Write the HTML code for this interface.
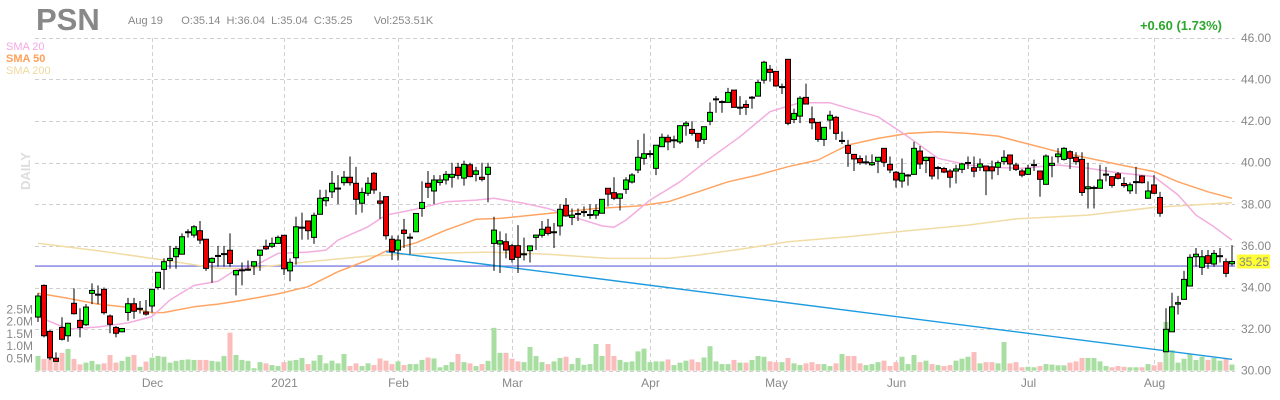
<!DOCTYPE html>
<html><head><meta charset="utf-8">
<style>
html,body{margin:0;padding:0;background:#fff;}
svg{display:block;font-family:"Liberation Sans",Arial,sans-serif;}
</style></head>
<body>
<svg id="chart" width="1280" height="400" viewBox="0 0 1280 400" xmlns="http://www.w3.org/2000/svg">
  <rect x="0" y="0" width="1280" height="400" fill="#fff"/>
  <text x="36" y="30" font-size="31" font-weight="bold" fill="#888">PSN</text>
  <text x="128" y="24" font-size="11" fill="#888" xml:space="preserve">Aug 19      O:35.14  H:36.04  L:35.04  C:35.25       Vol:253.51K</text>
  <text x="1222" y="30" font-size="13" font-weight="bold" fill="#2ca62c" text-anchor="end">+0.60 (1.73%)</text>
  <text x="6" y="50" font-size="11" fill="#f7a8e4">SMA 20</text>
  <text x="6" y="62" font-size="11" font-weight="bold" fill="#ffa05a">SMA 50</text>
  <text x="6" y="74" font-size="11" fill="#f0d9a0">SMA 200</text>
  <text transform="translate(30,190) rotate(-90)" font-size="13" font-weight="bold" fill="#ddd">DAILY</text>
  <g id="grid"></g>
  <g id="vol"></g>
  <g id="lines"></g>
  <g id="candles"></g>
  <g id="axes"></g>
</svg>
<script>
const opens=[32.58,34.1,31.89,30.6,32.08,31.68,33.24,32.42,32.21,33.72,33.67,33.91,32.63,32.08,31.87,32.8,33.22,33.0,32.82,33.11,34.0,34.87,35.3,35.48,35.6,36.68,36.52,36.73,36.32,35.21,35.53,35.62,35.79,34.61,34.84,34.87,35.03,35.55,35.98,35.98,36.12,36.51,34.8,35.43,36.89,37.2,36.41,37.52,38.17,38.6,38.77,39.04,39.3,39.01,38.05,38.53,39.49,38.16,38.37,36.32,35.8,36.76,36.41,36.68,37.8,39.01,38.64,39.05,39.17,39.3,39.78,39.26,39.9,39.44,39.3,39.44,36.12,36.09,36.2,36.01,36.01,35.61,35.77,36.41,36.51,36.9,36.67,36.96,37.95,37.37,37.55,37.64,37.5,37.48,37.57,38.77,38.56,38.29,38.72,39.07,39.65,40.21,40.43,39.73,40.77,41.22,41.1,41.0,41.78,41.6,41.41,41.12,41.99,43.06,42.93,42.9,43.49,42.66,42.8,43.14,43.2,43.97,44.49,44.39,43.65,44.97,42.08,42.24,43.14,42.11,41.94,41.12,42.05,42.18,41.06,40.83,40.4,40.2,40.03,39.9,40.07,40.69,39.92,39.54,39.12,39.4,39.44,40.56,40.1,40.26,39.76,39.72,39.6,39.6,39.68,40.0,39.76,39.78,39.84,39.8,39.78,40.05,40.37,39.89,39.6,39.44,39.9,39.6,38.96,39.87,40.29,40.16,40.53,40.26,40.16,38.75,38.8,38.77,39.44,39.33,39.46,39.0,38.65,39.08,39.36,38.29,38.93,38.33,30.91,31.87,33.2,33.43,34.07,35.48,34.97,35.53,35.13,35.52,35.24,35.14];
const highs=[33.73,34.15,31.95,30.88,32.57,32.3,33.96,33.0,33.2,34.2,34.1,34.0,32.7,32.15,32.05,33.5,33.5,33.35,33.4,33.95,34.73,35.4,36.0,36.0,36.6,36.8,37.0,37.2,36.32,35.45,36.0,36.0,36.6,34.82,35.2,35.3,35.24,35.8,36.3,36.4,36.5,36.51,35.4,37.4,37.6,37.2,37.6,38.7,38.7,39.6,39.4,39.6,40.3,39.8,38.8,39.3,39.55,38.6,38.37,36.5,36.5,37.3,36.6,37.56,39.1,39.6,39.4,39.4,39.6,40.0,40.0,40.1,40.0,39.8,40.0,40.0,37.4,36.7,36.6,36.1,37.0,36.4,36.0,36.52,37.2,37.3,37.1,38.0,38.3,37.8,37.8,37.9,38.0,38.0,38.24,38.77,39.3,38.5,39.3,39.5,41.1,41.4,40.6,40.84,41.4,41.35,41.3,41.78,42.0,42.0,41.41,41.73,42.9,43.2,43.0,43.6,43.49,43.2,43.0,43.2,43.98,44.9,44.7,44.39,43.8,44.97,42.6,43.2,43.8,42.7,41.94,41.7,42.5,42.25,41.5,41.1,40.4,40.35,40.35,40.4,40.26,40.69,40.3,39.6,40.2,39.45,41.0,40.8,40.3,40.26,39.85,39.8,39.7,39.9,40.0,40.3,40.3,40.2,39.84,40.1,40.1,40.6,40.37,40.0,39.7,39.9,40.15,39.6,40.4,40.3,40.7,40.75,40.6,40.5,40.5,40.0,38.9,39.9,39.8,39.33,39.55,39.3,39.05,39.8,39.4,39.1,39.4,38.6,33.0,33.75,33.6,34.8,35.6,35.9,35.8,35.8,35.8,35.9,35.4,36.04];
const lows=[32.34,31.6,30.51,30.44,31.45,31.39,32.7,31.6,32.15,33.2,33.2,32.7,31.8,31.6,31.85,32.4,32.5,32.75,32.65,32.8,33.9,33.9,34.9,34.9,35.6,36.4,36.4,36.1,34.8,34.23,35.0,35.0,35.0,33.62,34.1,34.8,34.6,34.8,35.8,35.9,36.1,34.6,34.3,35.1,36.3,36.3,36.1,37.52,37.9,38.3,38.0,38.9,38.9,37.5,37.6,38.4,38.5,37.3,36.3,35.32,35.3,35.9,35.6,36.68,37.4,38.3,38.0,38.9,38.95,38.8,39.2,38.9,39.3,39.1,39.1,38.1,34.8,34.7,35.4,35.2,34.7,35.3,35.2,35.8,36.4,36.5,35.9,36.5,37.4,37.0,37.2,37.4,37.3,37.3,37.57,37.9,38.2,37.7,38.5,39.0,39.5,39.9,40.25,39.4,40.77,40.6,40.7,40.9,41.3,41.3,40.7,40.9,41.8,42.4,42.4,42.9,42.66,42.3,42.3,42.6,43.2,43.8,43.9,43.65,43.3,41.8,41.9,41.9,42.8,41.6,41.0,40.8,41.6,41.1,40.9,39.8,39.6,39.9,39.9,39.85,39.5,39.8,39.5,38.8,38.8,38.9,39.44,39.7,39.5,39.2,39.2,39.5,38.8,39.0,39.5,39.7,39.3,39.6,38.44,39.2,39.4,39.9,39.6,39.6,39.3,39.4,39.6,38.36,38.96,39.3,40.0,40.1,39.7,39.9,38.4,37.8,37.8,38.77,39.1,38.8,39.2,38.8,38.5,38.5,39.0,38.29,38.5,37.4,30.9,31.87,32.7,33.43,34.07,35.0,34.6,34.9,35.0,35.2,34.5,35.04];
const closes=[33.59,31.68,30.62,30.45,31.51,32.28,32.74,32.08,33.06,33.86,33.68,32.79,32.23,31.8,32.03,33.22,32.86,33.0,32.72,33.91,34.73,35.24,35.4,35.88,36.44,36.68,36.92,36.28,34.92,35.4,35.54,35.63,35.16,34.82,34.85,34.88,35.24,35.8,35.86,36.12,36.41,34.9,35.21,36.92,36.9,36.73,37.47,38.29,38.32,39.01,38.78,39.3,39.04,38.24,38.57,39.01,38.69,38.05,36.49,35.72,36.28,36.6,36.42,37.56,38.09,38.82,39.17,39.17,39.44,39.44,39.39,39.92,39.33,39.61,39.2,39.78,36.76,36.25,35.8,35.35,35.45,35.62,36.0,36.52,36.8,36.6,36.68,37.76,37.44,37.48,37.56,37.65,37.51,37.7,38.24,38.49,38.29,38.5,39.17,39.41,40.26,40.43,40.44,40.84,41.22,41.0,41.1,41.78,41.9,41.41,41.04,41.73,42.42,43.07,42.94,43.38,42.66,42.67,42.66,43.15,43.86,44.83,44.34,43.69,43.66,41.89,42.37,43.1,42.82,41.92,41.12,41.7,42.28,41.41,41.07,40.45,40.18,40.0,40.04,40.0,40.26,40.02,39.65,39.17,39.49,39.41,40.69,39.94,40.26,39.36,39.77,39.55,39.3,39.7,39.94,40.01,39.59,39.94,39.61,39.61,40.0,40.26,39.94,39.68,39.4,39.73,39.91,39.2,40.32,39.97,40.42,40.69,40.21,40.05,38.57,38.84,38.81,39.17,39.45,38.91,39.25,38.9,38.94,39.09,39.04,38.64,38.53,37.57,31.99,33.07,33.27,34.39,35.45,35.6,35.48,35.16,35.64,35.53,34.68,35.25];
const volumes=[0.6,0.48,0.6,0.48,0.73,0.89,0.48,0.26,0.33,0.4,0.26,0.3,0.64,0.33,0.4,0.57,0.64,0.16,0.37,0.53,0.6,0.57,0.33,0.4,0.44,0.46,0.44,0.44,0.44,0.4,0.37,0.6,1.55,0.64,0.44,0.4,0.1,0.35,0.3,0.23,0.19,0.35,0.41,0.44,0.52,0.27,0.41,0.64,0.3,0.41,0.3,0.68,0.19,0.3,0.19,0.3,0.23,0.5,0.41,0.27,0.38,0.23,0.27,0.27,0.44,0.54,0.5,0.14,0.23,0.35,0.68,0.35,0.3,0.19,0.27,0.4,1.75,0.73,0.73,0.49,0.38,0.35,0.97,0.6,0.35,0.27,0.38,0.52,0.57,0.27,0.52,0.24,0.27,1.09,0.6,1.09,0.6,0.44,0.35,0.38,0.79,0.9,0.35,0.38,0.38,0.46,0.23,0.33,0.41,0.46,0.35,0.54,1.0,0.38,0.27,0.27,0.44,0.33,0.33,0.44,0.6,0.57,0.38,0.35,0.35,0.52,0.3,0.23,0.3,0.35,0.27,0.27,0.19,0.3,0.68,0.6,0.6,0.3,0.23,0.27,0.35,0.41,0.19,0.35,0.57,0.27,0.64,0.35,0.41,0.27,0.23,0.19,0.23,0.41,0.49,0.57,0.76,0.3,0.35,0.35,0.3,1.17,0.3,0.35,0.14,0.16,0.14,0.19,0.27,0.25,0.22,0.22,0.33,0.38,0.52,0.52,0.52,0.38,0.19,0.14,0.19,0.16,0.14,0.14,0.14,0.27,0.22,0.35,1.99,0.84,0.33,0.49,0.68,0.44,0.57,0.44,0.52,0.41,0.49,0.25];
const sma20Idx=[0,5,10,15,19,22,26,30,33,36,40,45,48,50,55,58,63,68,73,76,81,85,90,94,96,98,102,107,112,117,122,125,127,132,137,140,145,150,155,160,164,170,175,180,186,190,193,196,199];
const sma20Vals=[32.6,32.0,32.1,32.3,32.6,33.4,34.1,34.3,34.85,35.03,35.64,35.7,35.8,36.28,36.92,37.48,37.77,38.12,38.2,38.29,38.05,37.8,37.32,36.96,36.9,37.24,38.2,39.08,40.21,41.25,42.45,42.72,42.88,42.88,42.45,42.21,41.25,40.21,39.89,39.77,39.73,39.89,39.73,39.52,39.33,38.45,37.48,36.92,36.28];
const sma50Idx=[0,5,10,15,19,21,26,30,34,40,45,50,55,58,63,68,73,77,85,93,100,105,110,115,120,125,130,135,140,145,150,155,160,163,170,180,186,190,195,199];
const sma50Vals=[33.72,33.48,33.2,33.05,32.79,32.8,33.07,33.2,33.38,33.69,34.04,34.76,35.32,35.75,36.15,36.76,37.28,37.32,37.56,37.8,37.92,38.12,38.6,39.08,39.41,39.81,40.13,40.85,41.17,41.41,41.49,41.41,41.28,41.05,40.53,39.92,39.57,39.08,38.6,38.29];
const sma200Idx=[0,10,20,30,35,45,55,65,75,85,95,105,110,118,125,135,145,155,163,175,186,193,199];
const sma200Vals=[36.13,35.77,35.36,34.92,34.92,35.24,35.51,35.64,35.7,35.6,35.4,35.4,35.56,35.88,36.2,36.44,36.73,37.0,37.3,37.48,37.85,37.97,38.08];
const trendIdx=[58,199];
const trendVals=[35.72,30.55];
const hlinePrice=[35.03];
const priceTicks=[46,44,42,40,38,36,34,32,30];
const volTicks=[2.5,2.0,1.5,1.0,0.5];
const monthLabels=["Dec","2021","Feb","Mar","Apr","May","Jun","Jul","Aug"];
const monthIdx=[19,41,60,79,102,123,143,165,186];
const lastPrice=[35.25];

const NS="http://www.w3.org/2000/svg";
const N=closes.length;
const X0=38, STEP=6;
function xOf(i){return X0+i*STEP;}
function yOf(p){return 162.7-(p-40)*20.8;}
function yVol(v){return 370.7-v*24.5;}
function mk(tag,attrs,parent){const e=document.createElementNS(NS,tag);for(const k in attrs)e.setAttribute(k,attrs[k]);parent.appendChild(e);return e;}
const grid=document.getElementById('grid'),vol=document.getElementById('vol'),lines=document.getElementById('lines'),cg=document.getElementById('candles'),axes=document.getElementById('axes');

// horizontal gridlines + price labels
priceTicks.forEach(p=>{
  const y=Math.round(yOf(p))+0.5;
  const l=mk('line',{x1:35,x2:1235,y1:y,y2:y,stroke:'#d0d0d0','stroke-dasharray':'4,3','stroke-width':1},grid);
  
  
  const t=mk('text',{x:1241,y:yOf(p)+4,'font-size':12,fill:'#888'},axes);
  t.textContent=p.toFixed(2);
  
  
});
// vertical month gridlines + labels
monthIdx.forEach((mi,k)=>{
  const x=Math.round(xOf(mi)-0.5)+0.5;
  const l=mk('line',{x1:x,x2:x,y1:38,y2:371,stroke:'#d0d0d0','stroke-dasharray':'4,3','stroke-width':1},grid);
  
  
  const t=mk('text',{x:x,y:387,'font-size':12,fill:'#888','text-anchor':'middle'},axes);
  t.textContent=monthLabels[k];
  
  
});
// volume labels
volTicks.forEach(v=>{
  const t=mk('text',{x:33,y:yVol(v)+4,'font-size':12,fill:'#888','text-anchor':'end'},axes);
  t.textContent=v.toFixed(1)+'M';
  
  
});
// volume bars
for(let i=0;i<N;i++){
  const up=closes[i]>=opens[i];
  const y=yVol(volumes[i]);
  const b=mk('rect',{x:xOf(i)-2.5,y:y,width:5,height:370.7-y,fill:up?'#a8dea2':'#fbbcbc'},vol);
  
  
}
// horizontal line
{
  const y=yOf(hlinePrice[0]);
  const l=mk('line',{x1:35,x2:1235,y1:y,y2:y,stroke:'#7f7fe0','stroke-width':1.3},lines);
  
  
}
function poly(idx,vals,color,w,name){
  const pts=idx.map((ix,k)=>xOf(ix).toFixed(1)+','+yOf(vals[k]).toFixed(1)).join(' ');
  const p=mk('polyline',{points:pts,fill:'none',stroke:color,'stroke-width':w,'stroke-linejoin':'round'},lines);
  
  
}
poly(sma200Idx,sma200Vals,'#f2dca6',1.5,'sma200-line');
poly(sma50Idx,sma50Vals,'#ffa463',1.5,'sma50-line');
poly(sma20Idx,sma20Vals,'#f3addf',1.5,'sma20-line');
{
  const tl=mk('line',{x1:xOf(trendIdx[0]),y1:yOf(trendVals[0]),x2:xOf(trendIdx[1]),y2:yOf(trendVals[1]),stroke:'#1e9ae0','stroke-width':1.4},lines);
  
  
}
// candles
for(let i=0;i<N;i++){
  const x=xOf(i);
  const up=closes[i]>=opens[i];
  const g=mk('g',{},cg);
  
  
  mk('line',{x1:x,x2:x,y1:yOf(highs[i]),y2:yOf(lows[i]),stroke:'#000','stroke-width':1},g);
  const top=yOf(Math.max(opens[i],closes[i])),bot=yOf(Math.min(opens[i],closes[i]));
  mk('rect',{x:x-2.5,y:top,width:5,height:Math.max(bot-top,1),fill:up?'#00ee00':'#ee0000',stroke:'#000','stroke-width':1},g);
}
// last price tag
{
  const y=yOf(lastPrice[0]);
  const r=mk('rect',{x:1237,y:y-7,width:33,height:14,fill:'#ffff33'},axes);
  
  
  const t=mk('text',{x:1239,y:y+4.5,'font-size':12,fill:'#888'},axes);
  t.textContent=lastPrice[0].toFixed(2);
  
  
}
</script>
</body></html>
